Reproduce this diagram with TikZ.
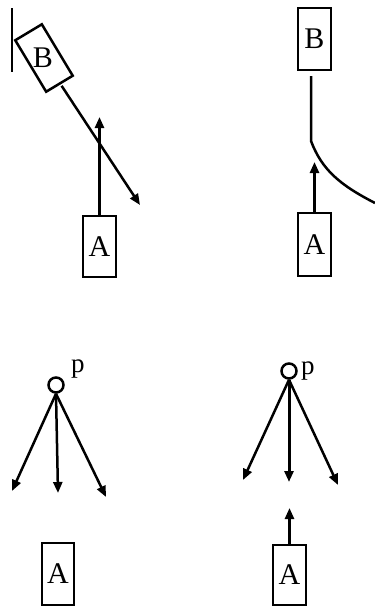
\documentclass[tikz,border=0pt]{standalone}
\usepackage{fontspec}
\setmainfont{Liberation Serif}
\usetikzlibrary{arrows.meta}
\begin{document}
\begin{tikzpicture}[x=1pt,y=-1pt,
  box/.style={draw, line width=2.5pt, minimum width=33pt, minimum height=61pt, inner sep=0pt},
  lbl/.style={font=\fontsize{30}{30}\selectfont, inner sep=0pt},
  plbl/.style={font=\fontsize{27}{27}\selectfont, inner sep=0pt, anchor=base west},
  ln/.style={line width=2.5pt},
  arr/.style={line width=2.5pt, -{Triangle[length=11pt,width=9pt]}},
  pt/.style={draw, circle, line width=2.5pt, minimum size=15pt, inner sep=0pt}]
\useasboundingbox (0,0) rectangle (375,606);
% ---- panel 1 ----
\coordinate (w1) at (12,8);
\coordinate (w2) at (12,72);
\draw[line width=2pt] (w1) -- (w2);
\node[box, minimum width=31pt, minimum height=60pt, rotate=31] (B1) at (44,58) {};
\node[lbl] (B1t) at (43,58) {B};
\coordinate (t1) at (140,205);
\draw[arr] ([xshift=1.5pt,yshift=-1pt]B1.south) -- (t1);
\node[box] (A1) at (99.5,246.5) {};
\node[lbl] (A1t) at (A1) {A};
\coordinate (u1) at (99.5,117);
\draw[arr] (A1.north) -- (u1);
% ---- panel 2 ----
\node[box, minimum height=62pt] (B2) at (314.5,39) {};
\node[lbl] (B2t) at (B2) {B};
\coordinate (k1) at (311,76);
\coordinate (k2) at (311,141);
\coordinate (k3) at (375,203);
\draw[ln] (k1) -- (k2) .. controls (322,170) and (340,185) .. (k3);
\node[box, minimum height=63pt] (A2) at (314.5,244.5) {};
\node[lbl] (A2t) at (A2) {A};
\coordinate (u2) at (314.5,162);
\draw[arr] (A2.north) -- (u2);
% ---- panel 3 ----
\node[pt] (C3) at (56,385) {};
\node[plbl] (p3) at (71,372) {p};
\coordinate (d3a) at (12,491);
\coordinate (d3b) at (58,493);
\coordinate (d3c) at (106,497);
\draw[arr] (C3.south) -- (d3a);
\draw[arr] (C3.south) -- (d3b);
\draw[arr] (C3.south) -- (d3c);
\node[box, minimum width=32pt, minimum height=62pt] (A3) at (58,574) {};
\node[lbl] (A3t) at (A3) {A};
% ---- panel 4 ----
\node[pt] (C4) at (289,371) {};
\node[plbl] (p4) at (301,374) {p};
\coordinate (d4a) at (243,480);
\coordinate (d4b) at (289,482);
\coordinate (d4c) at (338,485);
\draw[arr] (C4.south) -- (d4a);
\draw[arr, line width=3pt] (C4.south) -- (d4b);
\draw[arr] (C4.south) -- (d4c);
\node[box, minimum height=60pt] (A4) at (289.5,575) {};
\node[lbl] (A4t) at (A4) {A};
\coordinate (u4) at (289.5,508);
\draw[arr] (A4.north) -- (u4);
\end{tikzpicture}
\end{document}
